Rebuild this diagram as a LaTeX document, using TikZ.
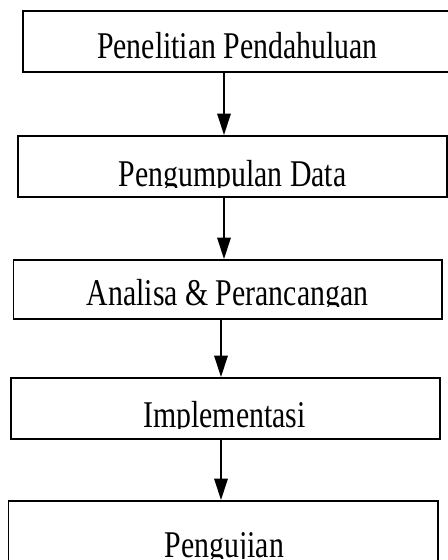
\documentclass[tikz,border=0pt]{standalone}
\usepackage{fontspec}
\newfontfamily\flowfont[FakeStretch=0.79]{Liberation Serif}
\usetikzlibrary{arrows.meta}
\tikzset{
	stepbox/.style={draw, line width=1.4pt, rectangle, inner sep=0pt, minimum width=321.75pt, minimum height=45.75pt},
	steptext/.style={anchor=base, inner sep=0pt, font=\flowfont\fontsize{28.3}{34}\selectfont},
	flow/.style={line width=1.4pt, -{Triangle[width=10pt,length=16pt]}},
}
\begin{document}
\begin{tikzpicture}[x=0.75pt,y=0.75pt,yscale=-1,xscale=1]
	\useasboundingbox (0,0) rectangle (448,560);
	
	%Shape: Rectangle [id:pp]
	\node [stepbox] (pp) at (237.5,41.5) {};
	%Shape: Rectangle [id:pd]
	\node [stepbox] (pd) at (232.5,166.5) {};
	%Shape: Rectangle [id:ap]
	\node [stepbox, minimum width=321.4pt, minimum height=44.25pt] (ap) at (227.75,289.5) {};
	%Shape: Rectangle [id:im]
	\node [stepbox] (im) at (225.5,408.5) {};
	%Shape: Rectangle [id:pg]
	\node [stepbox, minimum width=322.1pt] (pg) at (223.25,531.5) {};
	
	% Arrow columns
	\coordinate (c1) at (224,0);
	\coordinate (c2) at (221,0);
	%Straight Lines
	\draw [flow] (pp.south -| c1) -- (pd.north -| c1);
	\draw [flow] (pd.south -| c1) -- (ap.north -| c1);
	\draw [flow] (ap.south -| c2) -- (im.north -| c2);
	\draw [flow] (im.south -| c2) -- (pg.north -| c2);
	
	% Text Nodes (cut just under the baseline)
	\begin{scope}
		\clip (0,0) rectangle (448,60) (0,137) rectangle (448,187) (0,261) rectangle (448,306) (0,379) rectangle (448,428) (0,502) rectangle (448,558);
		\node [steptext] (tpp) at (237.5,59) {Penelitian Pendahuluan};
		\node [steptext] (tpd) at (232.5,186) {Pengumpulan Data};
		\node [steptext] (tap) at (227.5,305) {Analisa \& Perancangan};
		\node [steptext] (tim) at (224.5,427) {Implementasi};
		\node [steptext] (tpg) at (224.5,557) {Pengujian};
	\end{scope}
	
\end{tikzpicture}
\end{document}
